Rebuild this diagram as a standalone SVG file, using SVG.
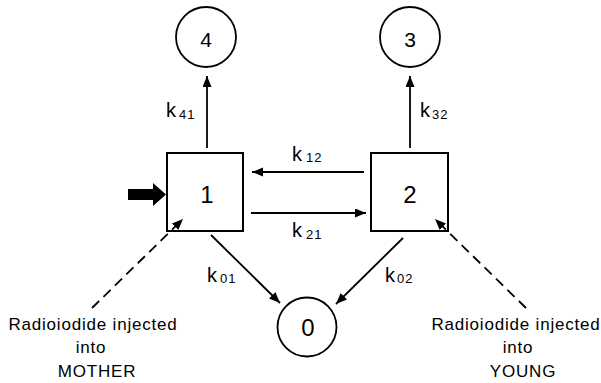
<svg xmlns="http://www.w3.org/2000/svg" width="601" height="383" viewBox="0 0 601 383">
<style>
.bg{fill:#fff}
.box{fill:none;stroke:#000;stroke-width:2}
.circ{fill:none;stroke:#000;stroke-width:1.8}
.num{font-family:"Liberation Sans",Arial,sans-serif;fill:#000;text-anchor:middle}
.k{font-family:"Liberation Sans",Arial,sans-serif;fill:#000;font-size:20px}
.sub{font-size:13px;letter-spacing:1px}
.lbl{font-family:"Liberation Sans",Arial,sans-serif;fill:#000;font-size:17px;text-anchor:middle;letter-spacing:0.8px}
.ln{stroke:#000;stroke-width:1.8;fill:none;marker-end:url(#ah)}
.dash{stroke:#000;stroke-width:1.8;fill:none;stroke-dasharray:10 6;marker-end:url(#ah)}
</style>
<defs>
<marker id="ah" markerUnits="userSpaceOnUse" markerWidth="12" markerHeight="10" refX="11" refY="4.5" orient="auto">
<path d="M0,0 L11,4.5 L0,9 z" fill="#000"/>
</marker>
</defs>
<rect class="bg" x="0" y="0" width="601" height="383"/>
<g id="node-4">
<circle class="circ" cx="206" cy="37" r="30"/>
<text class="num" x="206" y="47" font-size="21">4</text>
</g>
<g id="node-3">
<circle class="circ" cx="410" cy="37" r="30"/>
<text class="num" x="410" y="47" font-size="21">3</text>
</g>
<g id="node-1">
<rect class="box" x="167" y="153" width="76" height="78"/>
<text class="num" x="207" y="203" font-size="24">1</text>
</g>
<g id="node-2">
<rect class="box" x="371" y="153" width="77" height="78"/>
<text class="num" x="410" y="203" font-size="24">2</text>
</g>
<g id="node-0">
<circle class="circ" cx="307" cy="327" r="29.5"/>
<text class="num" x="308" y="336" font-size="24">0</text>
</g>
<g id="connectors">
<line class="ln" x1="207" y1="148" x2="207" y2="76"/>
<line class="ln" x1="410" y1="148" x2="410" y2="76"/>
<line class="ln" x1="364" y1="172" x2="252" y2="172"/>
<line class="ln" x1="251" y1="213" x2="366" y2="213"/>
<line class="ln" x1="211" y1="235" x2="280" y2="303"/>
<line class="ln" x1="403" y1="238" x2="336" y2="304"/>
<line class="dash" x1="92" y1="308" x2="183" y2="219"/>
<line class="dash" x1="526" y1="308" x2="435" y2="219"/>
<path d="M128,189 L153,189 L153,183 L166,194.5 L153,206 L153,200 L128,200 z" fill="#000"/>
</g>
<g id="labels">
<text class="k" x="166" y="117">k<tspan class="sub" dx="3" dy="2">41</tspan></text>
<text class="k" x="420" y="117">k<tspan class="sub" dx="2" dy="2">32</tspan></text>
<text class="k" x="292" y="161">k<tspan class="sub" dx="4" dy="1">12</tspan></text>
<text class="k" x="292" y="237">k<tspan class="sub" dx="4" dy="2">21</tspan></text>
<text class="k" x="207" y="282">k<tspan class="sub" dx="3" dy="1">01</tspan></text>
<text class="k" x="385" y="282">k<tspan class="sub" dx="2" dy="1">02</tspan></text>
<text class="lbl" x="93" y="330">Radioiodide injected</text>
<text class="lbl" x="91" y="353">into</text>
<text class="lbl" x="97" y="377">MOTHER</text>
<text class="lbl" x="516" y="330">Radioiodide injected</text>
<text class="lbl" x="518" y="353">into</text>
<text class="lbl" x="523" y="377">YOUNG</text>
</g>
</svg>
